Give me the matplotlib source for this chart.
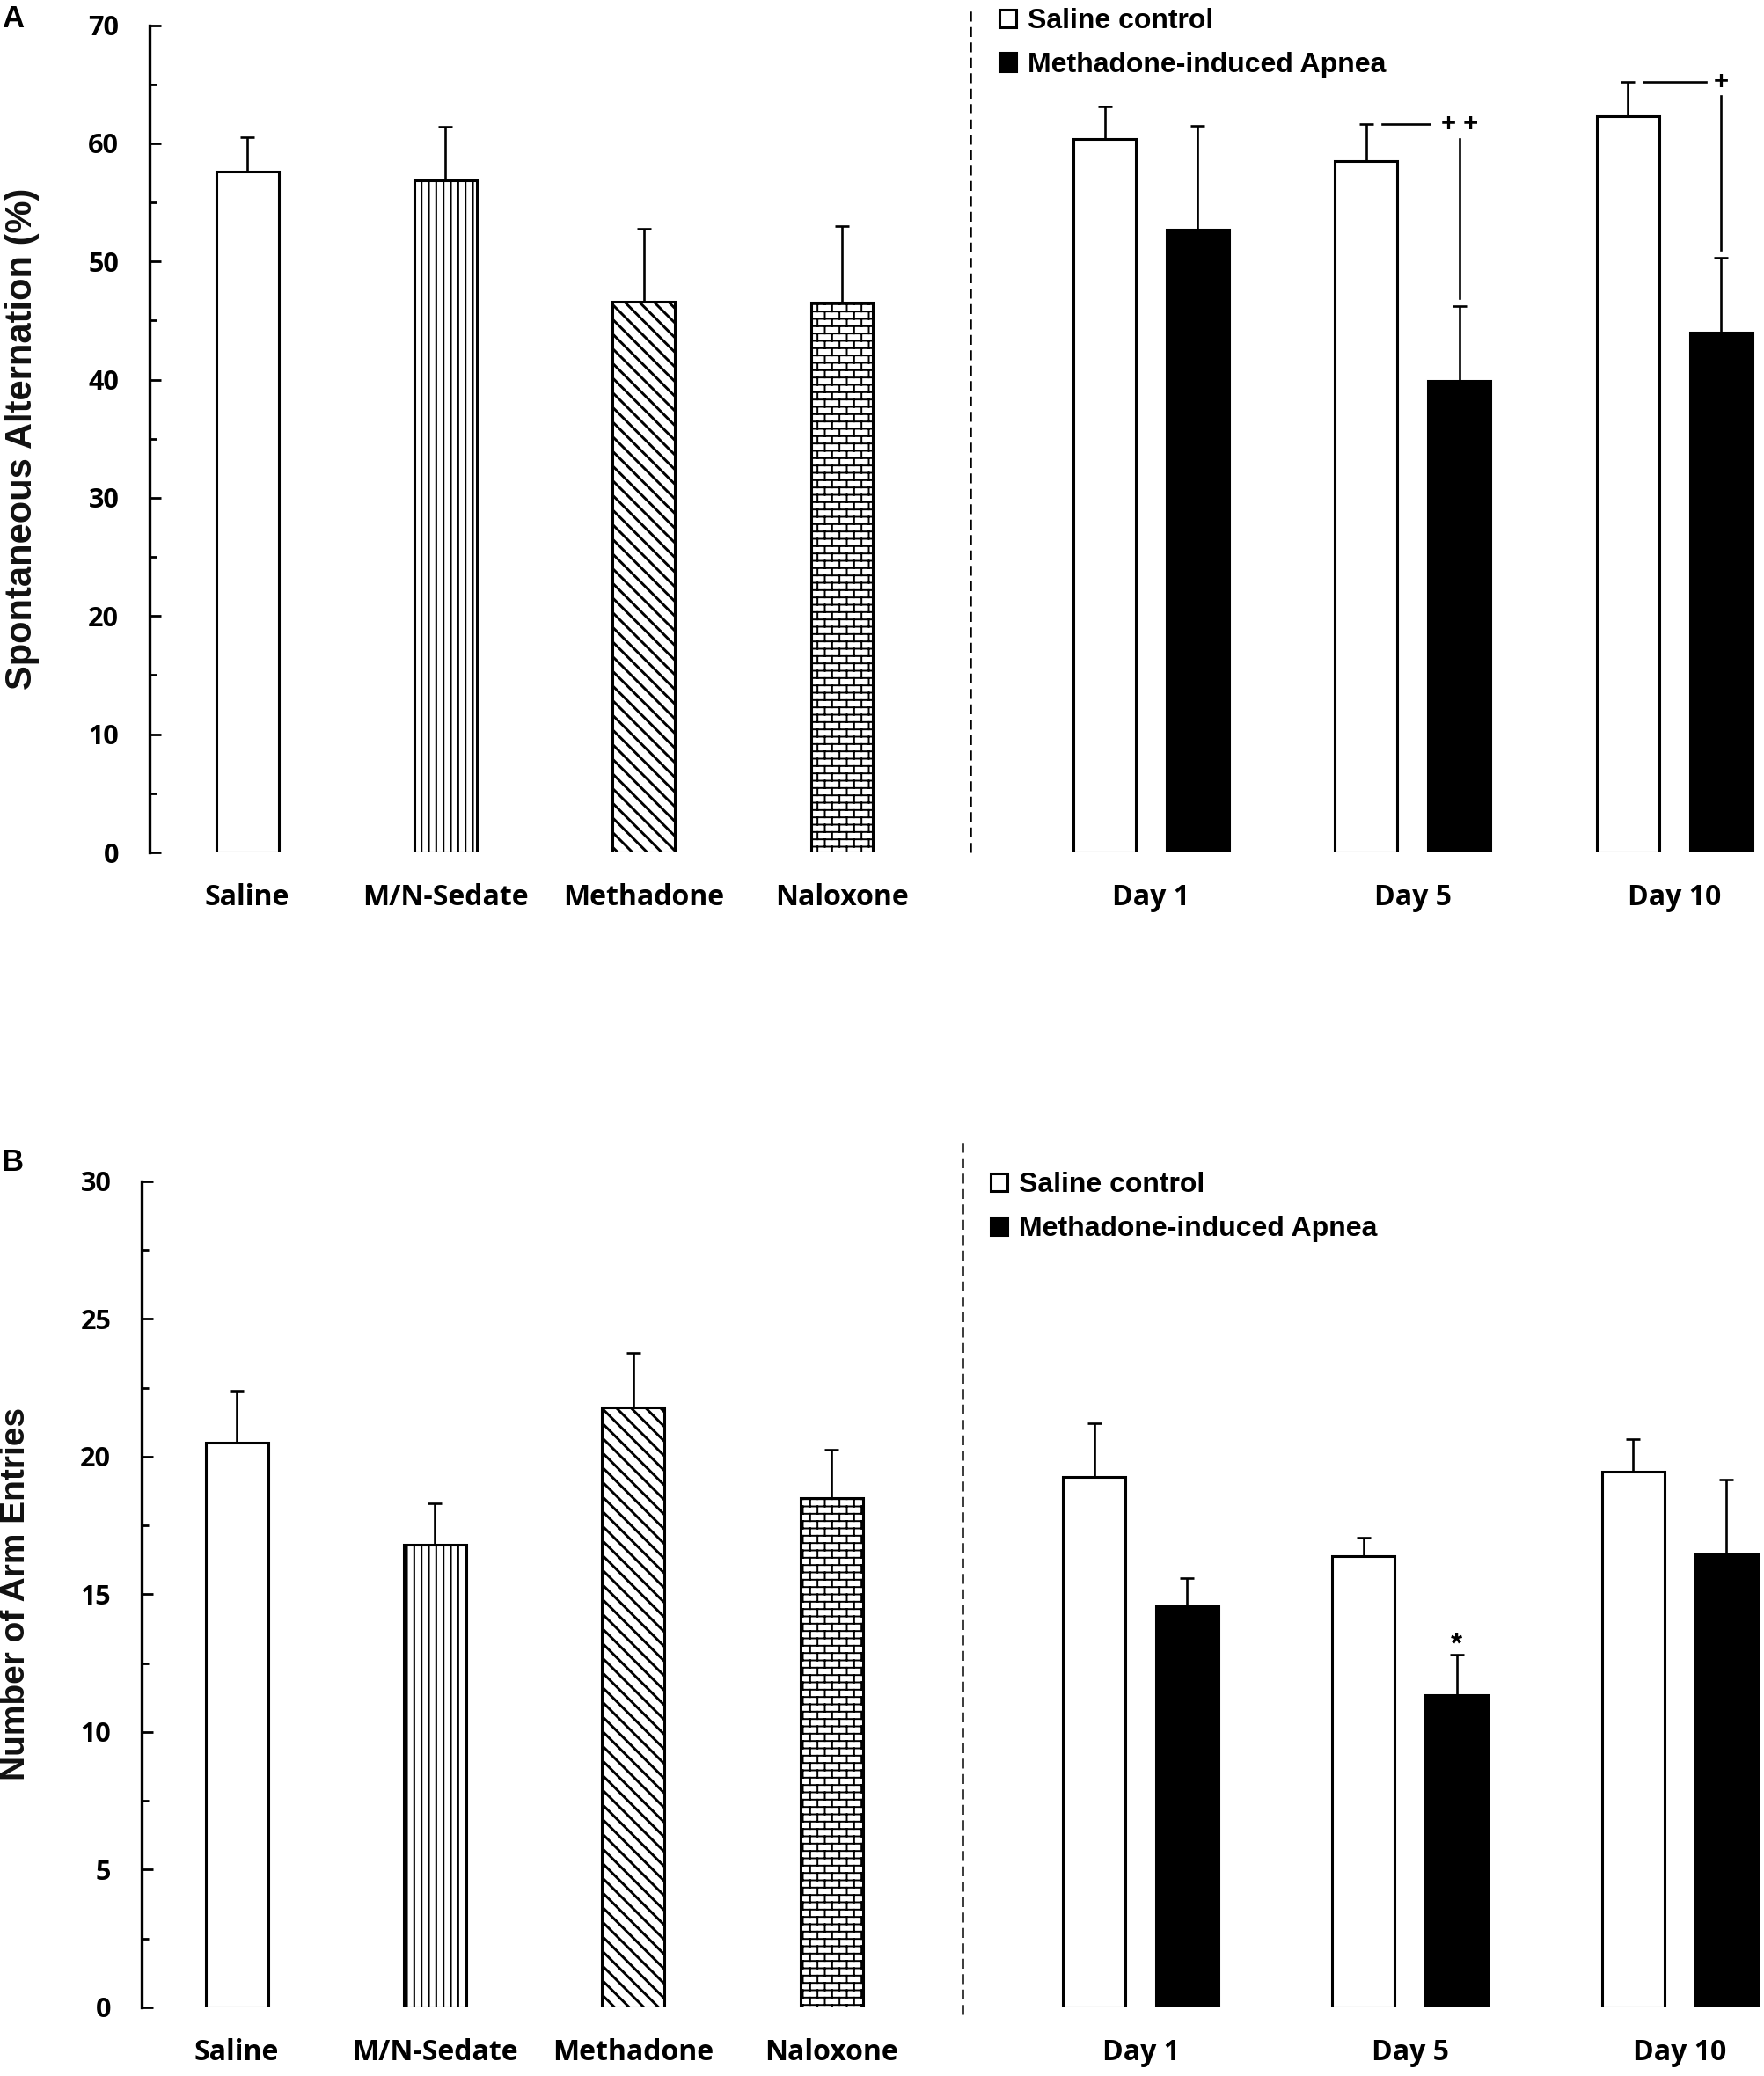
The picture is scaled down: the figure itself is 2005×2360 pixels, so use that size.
import numpy as np
import matplotlib
matplotlib.use('Agg')
import matplotlib.pyplot as plt
import matplotlib.hatch as mhatch
from matplotlib.path import Path

# datos
grupos = ['Saline', 'M/N-Sedate', 'Methadone', 'Naloxone']
dias = ['Day 1', 'Day 5', 'Day 10']
series = ['Saline control', 'Methadone-induced Apnea']

# A: alternancia espontanea (%)
alt_grupos = [57.6, 56.9, 46.6, 46.5]
alt_grupos_err = [2.9, 4.5, 6.2, 6.5]
alt_saline = [60.4, 58.5, 62.3]
alt_saline_err = [2.7, 3.1, 2.9]
alt_apnea = [52.7, 39.9, 44.0]
alt_apnea_err = [8.8, 6.3, 6.3]
alt_sig = ['', '++', '+']

# B: numero de entradas a brazos
arm_grupos = [20.5, 16.8, 21.8, 18.5]
arm_grupos_err = [1.9, 1.5, 1.95, 1.75]
arm_saline = [19.25, 16.4, 19.45]
arm_saline_err = [1.95, 0.65, 1.2]
arm_apnea = [14.55, 11.35, 16.45]
arm_apnea_err = [1.05, 1.45, 2.7]
arm_sig = ['', '*', '']


# patron de ladrillos: juntas verticales alternadas entre las lineas '-'
class BrickHatch(mhatch.HatchPatternBase):
    def __init__(self, hatch, density):
        n = int(hatch.count('-') * density)
        m = n // 2
        segs = []
        if n > 0:
            step = 1.0 / n
            for i in range(n):
                y0 = (i + 0.5) * step
                y1 = y0 + step
                for k in range(m):
                    x = (k + 0.25 + 0.5 * (i % 2)) / m
                    if y1 <= 1.0:
                        segs.append(((x, y0), (x, y1)))
                    else:
                        segs.append(((x, y0), (x, 1.0)))
                        segs.append(((x, 0.0), (x, y1 - 1.0)))
        self.segs = segs
        self.num_vertices = 2 * len(segs)

    def set_vertices_and_codes(self, vertices, codes):
        for j, (a, b) in enumerate(self.segs):
            vertices[2 * j] = a
            vertices[2 * j + 1] = b
            codes[2 * j] = Path.MOVETO
            codes[2 * j + 1] = Path.LINETO


mhatch._hatch_types.append(BrickHatch)

plt.rcParams['font.family'] = ['Liberation Sans', 'DejaVu Sans']
plt.rcParams['hatch.linewidth'] = 1.5

patrones = ['', '||', '\\\\', '--']
grosor_hatch = [1.5, 1.5, 2.1, 1.4]
tick_font = {'family': 'Open Sans', 'weight': 'bold', 'size': 22}
label_font = {'family': 'Open Sans', 'weight': 'bold', 'size': 23}

fig = plt.figure(figsize=(20.05, 23.6), dpi=100)

paneles = [
    dict(letra='A', rect=[0.0848, 0.5894, 0.9152, 0.3985], x0=-0.493,
         ymax=70, major=10, ylabel='Spontaneous Alternation (%)', ysize=30,
         g=alt_grupos, ge=alt_grupos_err, s=alt_saline, se=alt_saline_err,
         a=alt_apnea, ae=alt_apnea_err, sig=alt_sig, dia0=4.56, paso=1.32,
         sep=3.65, dash=(0.0, 1.018), leg_xy=(0.5665, 0.9962),
         letra_y=0.998),
    dict(letra='B', rect=[0.0803, 0.0331, 0.9197, 0.3979], x0=-0.48,
         ymax=30, major=5, ylabel='Number of Arm Entries', ysize=28,
         g=arm_grupos, ge=arm_grupos_err, s=arm_saline, se=arm_saline_err,
         a=arm_apnea, ae=arm_apnea_err, sig=arm_sig, dia0=4.56, paso=1.36,
         sep=3.66, dash=(-0.0085, 1.051), leg_xy=(0.5615, 0.4355),
         letra_y=0.447),
]

ancho = 0.315
desp = 0.235
px_por_unidad = 225.3

for p in paneles:
    ax = fig.add_axes(p['rect'])
    ancho_px = p['rect'][2] * 2005
    ax.set_xlim(p['x0'], p['x0'] + ancho_px / px_por_unidad)
    ax.set_ylim(0, p['ymax'])

    # grupos de la izquierda
    xg = np.arange(len(grupos))
    barras = ax.bar(xg, p['g'], width=ancho, color='white', edgecolor='black',
                    linewidth=2.2, zorder=2)
    for b, h, lw in zip(barras, patrones, grosor_hatch):
        b.set_hatch(h)
        if hasattr(b, 'set_hatch_linewidth'):
            b.set_hatch_linewidth(lw)
    ax.errorbar(xg, p['g'], yerr=[np.zeros(len(xg)), p['ge']], fmt='none',
                ecolor='black', elinewidth=1.9, capsize=5.5, capthick=1.9, zorder=3)

    # dias
    xd = p['dia0'] + p['paso'] * np.arange(len(dias))
    b1 = ax.bar(xd - desp, p['s'], width=ancho, color='white', edgecolor='black',
                linewidth=2.2, zorder=2, label=series[0])
    b2 = ax.bar(xd + desp, p['a'], width=ancho, color='black', edgecolor='black',
                linewidth=2.2, zorder=2, label=series[1])
    ax.errorbar(xd - desp, p['s'], yerr=[np.zeros(3), p['se']], fmt='none',
                ecolor='black', elinewidth=1.9, capsize=5.5, capthick=1.9, zorder=3)
    ax.errorbar(xd + desp, p['a'], yerr=[np.zeros(3), p['ae']], fmt='none',
                ecolor='black', elinewidth=1.9, capsize=5.5, capthick=1.9, zorder=3)

    # significancia
    u = p['ymax'] / 70.0
    for i, sig in enumerate(p['sig']):
        if sig == '':
            continue
        xw = xd[i] - desp
        xb = xd[i] + desp
        ys = p['s'][i] + p['se'][i]
        yb = p['a'][i] + p['ae'][i]
        if sig == '*':
            ax.text(xb, yb + 0.8 * u, sig, ha='center', va='center',
                    fontsize=24, fontweight='bold')
        else:
            ax.plot([xw + 0.08, xb - 0.075 * len(sig)], [ys, ys], color='black', lw=1.9)
            ax.plot([xb, xb], [ys - 1.2 * u, yb + 0.7 * u], color='black', lw=1.9)
            ax.text(xb, ys, ' '.join(sig) if len(sig) > 1 else sig, ha='center',
                    va='center', fontsize=21, fontweight='bold')

    # separador
    ax.axvline(p['sep'], ymin=p['dash'][0], ymax=p['dash'][1], color='black',
               lw=1.8, linestyle=(0, (4.5, 2.5)), clip_on=False)

    # ejes
    for lado in ['top', 'right', 'bottom']:
        ax.spines[lado].set_visible(False)
    ax.spines['left'].set_linewidth(2.4)
    ax.set_yticks(np.arange(0, p['ymax'] + 1, p['major']))
    ax.set_yticks(np.arange(0, p['ymax'] + 1, p['major'] / 2), minor=True)
    ax.tick_params(axis='y', which='major', direction='in', length=9, width=2,
                   pad=25)
    ax.tick_params(axis='y', which='minor', direction='in', length=6, width=2)
    ax.set_xticks(list(xg) + list(xd))
    ax.set_xticklabels(grupos + dias)
    ax.tick_params(axis='x', length=0, pad=25)
    for t in ax.get_yticklabels():
        t.set_fontproperties(tick_font)
    for t in ax.get_xticklabels():
        t.set_fontproperties(label_font)

    ax.set_ylabel(p['ylabel'], fontsize=p['ysize'], fontweight='bold', color='#111111')
    ax.yaxis.set_label_coords(-0.068, 0.5)

    ax.legend(handles=[b1, b2], loc='upper left', bbox_to_anchor=p['leg_xy'],
              bbox_transform=fig.transFigure, frameon=False, borderpad=0,
              borderaxespad=0, handlelength=0.6, handleheight=0.6,
              handletextpad=0.4, labelspacing=0.62,
              prop={'family': 'Liberation Sans', 'weight': 'bold', 'size': 23})

    fig.text(0.001, p['letra_y'], p['letra'], ha='left', va='top', fontsize=25,
             fontweight='bold')

fig.savefig('out.png', dpi=100)
